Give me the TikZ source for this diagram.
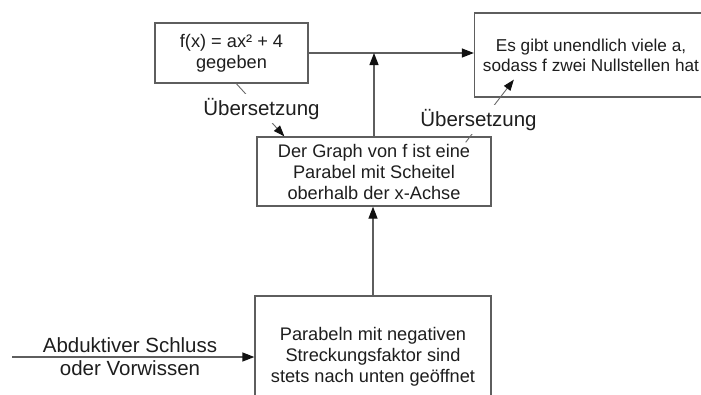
\documentclass[tikz,border=0pt]{standalone}
\usepackage{fontspec}
\setmainfont{Liberation Sans}
\usetikzlibrary{arrows.meta,calc}
\definecolor{boxline}{HTML}{5E5E5E}
\definecolor{txt}{HTML}{1E1E1E}
\definecolor{thin}{HTML}{6A6A6A}
\definecolor{tip}{HTML}{111111}
\tikzset{
  stmt/.style={draw=boxline, line width=1.3pt, fill=white, rectangle, inner sep=0pt,
    align=center, text=txt, font=\fontsize{18.2}{21}\selectfont},
  lbl/.style={text=txt, font=\fontsize{20.5}{24}\selectfont, inner sep=0pt},
  uelbl/.style={lbl, fill=white, inner xsep=1pt, inner ysep=4pt},
  conn/.style={draw=boxline, line width=1.3pt, -{Triangle[length=12pt,width=9pt,color=tip]}},
  plainconn/.style={draw=boxline, line width=1.3pt},
  thinconn/.style={draw=thin, line width=0.9pt, -{Triangle[length=11pt,width=8pt,color=tip]}}
}
\begin{document}
\begin{tikzpicture}[x=1pt,y=-1pt]
\clip (0,0) rectangle (701,394);
\fill[white] (0,0) rectangle (701,394);

% boxes
\node[stmt, minimum width=153pt, minimum height=60pt] (b1) at (231.5,53)
  {f(x) = ax² + 4\\gegeben};
\node[stmt, minimum width=234pt, minimum height=69pt] (b2) at (374,171.5)
  {Der Graph von f ist eine\\Parabel mit Scheitel\\oberhalb der x-Achse};
\node[stmt, minimum width=233pt, minimum height=84pt, font=\fontsize{17.2}{20}\selectfont] (b3) at (591,55)
  {Es gibt unendlich viele a,\\sodass f zwei Nullstellen hat};
\node[stmt, minimum width=236pt, minimum height=122pt] (b4) at (373,357)
  {Parabeln mit negativen\\Streckungsfaktor sind\\stets nach unten geöffnet};

% main connectors
\coordinate (j) at (b2.north |- b1.east);
\draw[plainconn] (b1.east) -- (j);
\draw[conn] (j) -- (b1.east -| b3.west);
\draw[conn] (b2.north) -- (j);
\draw[conn] (b4.north) -- (b4.north |- b2.south);

\coordinate (src) at (12,357);
\draw[conn] (src) -- (b4.west);
\node[lbl, anchor=base] (abd) at (130,352) {Abduktiver Schluss};
\node[lbl, anchor=base] (vor) at (130,375) {oder Vorwissen};

% translation connectors
\draw[thinconn] ([xshift=82pt]b1.south west) -- ([xshift=28pt]b2.north west);
\node[uelbl, anchor=base] (ue1) at (261.5,115) {Übersetzung};

\draw[thinconn] ([xshift=-26pt,yshift=-6pt]b2.north east) -- ([xshift=40pt,yshift=18pt]b3.south west);
\node[uelbl, anchor=base] (ue2) at (478.5,126) {Übersetzung};
\end{tikzpicture}
\end{document}
